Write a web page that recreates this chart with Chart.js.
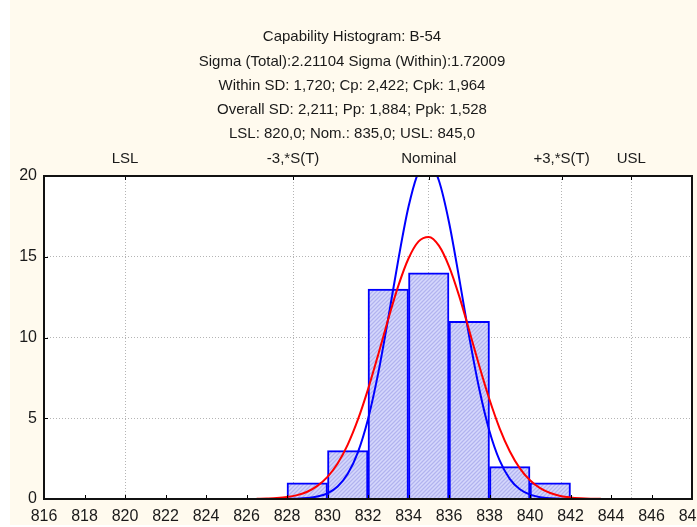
<!DOCTYPE html>
<html>
<head>
<meta charset="utf-8">
<script src="https://cdn.jsdelivr.net/npm/chart.js@4/dist/chart.umd.min.js"></script>
<style>
  html, body { margin: 0; padding: 0; background: #ffffff; }
  #wrap { width: 697px; height: 527px; }
</style>
</head>
<body>
<div id="wrap"><canvas id="c" width="697" height="527"></canvas></div>
<script>
// ---- Data ----
const titleLines = [
  "Capability Histogram: B-54",
  "Sigma (Total):2.21104 Sigma (Within):1.72009",
  "Within SD: 1,720; Cp: 2,422; Cpk: 1,964",
  "Overall SD: 2,211; Pp: 1,884; Ppk: 1,528",
  "LSL: 820,0; Nom.: 835,0; USL: 845,0"
];
const binCenters = [829, 831, 833, 835, 837, 839, 841];
const binCounts  = [1, 3, 13, 14, 11, 2, 1];

const specValues = [820, 828.3, 835, 841.56, 845];
const specLabels = ["LSL", "-3,*S(T)", "Nominal", "+3,*S(T)", "USL"];

const curveX = [826.5, 827, 827.5, 828, 828.5, 829, 829.5, 830, 830.5, 831, 831.5, 832, 832.5, 833, 833.5, 834, 834.5,
                835, 835.5, 836, 836.5, 837, 837.5, 838, 838.5, 839, 839.5, 840, 840.5, 841, 841.5, 842, 842.5, 843, 843.5];
const curveTotal = [0.01, 0.03, 0.06, 0.12, 0.24, 0.45, 0.81, 1.37, 2.20, 3.37, 4.91, 6.79, 8.92, 11.14, 13.21, 14.89, 15.95,
                    16.23, 15.69, 14.41, 12.58, 10.43, 8.22, 6.16, 4.38, 2.96, 1.90, 1.16, 0.67, 0.37, 0.19, 0.10, 0.05, 0.02, 0.01];
const curveWithin = [0, 0, 0, 0.01, 0.02, 0.06, 0.15, 0.35, 0.77, 1.56, 2.89, 4.94, 7.76, 11.19, 14.84, 18.09, 20.26,
                     20.85, 19.72, 17.14, 13.69, 10.04, 6.78, 4.20, 2.39, 1.25, 0.60, 0.27, 0.11, 0.04, 0.01, 0, 0, 0, 0];

const xMin = 816, xMax = 848, xStep = 2;
const yMin = 0, yMax = 20, yStep = 5;

// ---- Styling helpers ----
const FONT = "'Liberation Sans', Arial, sans-serif";
const TITLE_PAD_TOP = 25, TITLE_SIZE = 15, TITLE_LH = 1.617;
function hatch() {
  const pc = document.createElement('canvas');
  pc.width = 4; pc.height = 4;
  const p = pc.getContext('2d');
  p.fillStyle = '#c6c8f8';
  p.fillRect(0, 0, 4, 4);
  p.fillStyle = '#b2b4ee';
  for (let i = 0; i < 4; i++) p.fillRect(i, 3 - i, 1, 1);
  p.fillStyle = '#d6d8fb';
  for (let i = 0; i < 4; i++) p.fillRect(i, (5 - i) % 4, 1, 1);
  return p.createPattern(pc, 'repeat');
}

const bgPlugin = {
  id: 'bg',
  beforeDraw(chart) {
    const ctx = chart.ctx, a = chart.chartArea;
    ctx.save();
    ctx.fillStyle = '#ffffff';
    ctx.fillRect(0, 0, chart.width, chart.height);
    ctx.fillStyle = '#fffaee';
    ctx.fillRect(10, 0, chart.width - 10, 525);
    ctx.fillStyle = '#ffffff';
    ctx.fillRect(a.left, a.top, a.right - a.left, a.bottom - a.top);
    ctx.restore();
  },
  afterDraw(chart) {
    const ctx = chart.ctx, a = chart.chartArea;
    ctx.save();
    ctx.strokeStyle = '#000';
    ctx.lineWidth = 1;
    // inward tick marks
    const xs = chart.scales.x, ys = chart.scales.y, xt = chart.scales.x2;
    ctx.beginPath();
    xs.ticks.forEach((t, i) => { const px = Math.round(xs.getPixelForTick(i)) + 0.5; ctx.moveTo(px, a.bottom); ctx.lineTo(px, a.bottom - 4); });
    xt.ticks.forEach((t, i) => { const px = Math.round(xt.getPixelForTick(i)) + 0.5; ctx.moveTo(px, a.top); ctx.lineTo(px, a.top + 4); });
    ys.ticks.forEach((t, i) => { const py = Math.round(ys.getPixelForTick(i)) + 0.5; ctx.moveTo(a.left, py); ctx.lineTo(a.left + 4, py); });
    ctx.stroke();
    // frame
    ctx.strokeStyle = '#111';
    ctx.lineWidth = 2;
    ctx.strokeRect(a.left, a.top, a.right - a.left, a.bottom - a.top);
    ctx.restore();
  }
};

const ctx = document.getElementById('c').getContext('2d');
new Chart(ctx, {
  data: {
    datasets: [
      {
        type: 'line',
        label: 'Total',
        data: curveX.map((x, i) => ({ x: x, y: curveTotal[i] })),
        borderColor: '#ff0000',
        borderWidth: 2,
        pointRadius: 0,
        fill: false,
        cubicInterpolationMode: 'monotone',
        xAxisID: 'x', yAxisID: 'y',
        order: 1
      },
      {
        type: 'line',
        label: 'Within',
        data: curveX.map((x, i) => ({ x: x, y: curveWithin[i] })),
        borderColor: '#0000ff',
        borderWidth: 2,
        pointRadius: 0,
        fill: false,
        cubicInterpolationMode: 'monotone',
        xAxisID: 'x', yAxisID: 'y',
        order: 2
      },
      {
        type: 'bar',
        label: 'Count',
        data: binCenters.map((x, i) => ({ x: x, y: binCounts[i] })),
        backgroundColor: hatch(),
        borderColor: '#0000ff',
        borderWidth: 2,
        borderSkipped: 'start',
        barPercentage: 1,
        categoryPercentage: 1,
        xAxisID: 'x', yAxisID: 'y',
        order: 3
      }
    ]
  },
  options: {
    responsive: false,
    animation: false,
    devicePixelRatio: 1,
    layout: { padding: { left: 12, right: 5, top: 0, bottom: 0 } },
    plugins: {
      legend: { display: false },
      tooltip: { enabled: false },
      title: {
        display: true,
        text: titleLines,
        color: '#1a1a1a',
        font: { family: FONT, size: TITLE_SIZE, weight: 'normal', lineHeight: TITLE_LH },
        padding: { top: TITLE_PAD_TOP, bottom: 0 }
      }
    },
    scales: {
      x: {
        type: 'linear',
        position: 'bottom',
        offset: false,
        min: xMin, max: xMax,
        ticks: { stepSize: xStep, color: '#1a1a1a', font: { family: FONT, size: 16 }, padding: 8, maxRotation: 0, autoSkip: false },
        grid: { display: true, offset: false, drawOnChartArea: false, drawTicks: false },
        border: { display: false },
        afterFit(s) { s.height = 28; s.paddingLeft = 0; s.paddingRight = 0; }
      },
      x2: {
        type: 'linear',
        position: 'top',
        offset: false,
        min: xMin, max: xMax,
        afterBuildTicks(s) { s.ticks = specValues.map(v => ({ value: v })); },
        ticks: {
          color: '#1a1a1a', font: { family: FONT, size: 15 }, padding: 8, maxRotation: 0, autoSkip: false,
          callback: (v, i) => specLabels[i]
        },
        grid: { display: true, offset: false, drawTicks: false, color: '#b4b4b4', lineWidth: 1 },
        border: { display: false, dash: [1, 2] },
        afterFit(s) {
          s.height = 176 - (TITLE_PAD_TOP + titleLines.length * TITLE_SIZE * TITLE_LH);
          s.paddingLeft = 0; s.paddingRight = 0;
        }
      },
      y: {
        type: 'linear',
        position: 'left',
        min: yMin, max: yMax,
        ticks: { stepSize: yStep, color: '#1a1a1a', font: { family: FONT, size: 16 }, padding: 7 },
        grid: {
          drawTicks: false,
          lineWidth: 1,
          color: (c) => (c.tick && (c.tick.value === yMin || c.tick.value === yMax)) ? 'rgba(0,0,0,0)' : '#b4b4b4'
        },
        border: { display: false, dash: [1, 2] },
        afterFit(s) { s.width = 32; }
      }
    }
  },
  plugins: [bgPlugin]
});
</script>
</body>
</html>
